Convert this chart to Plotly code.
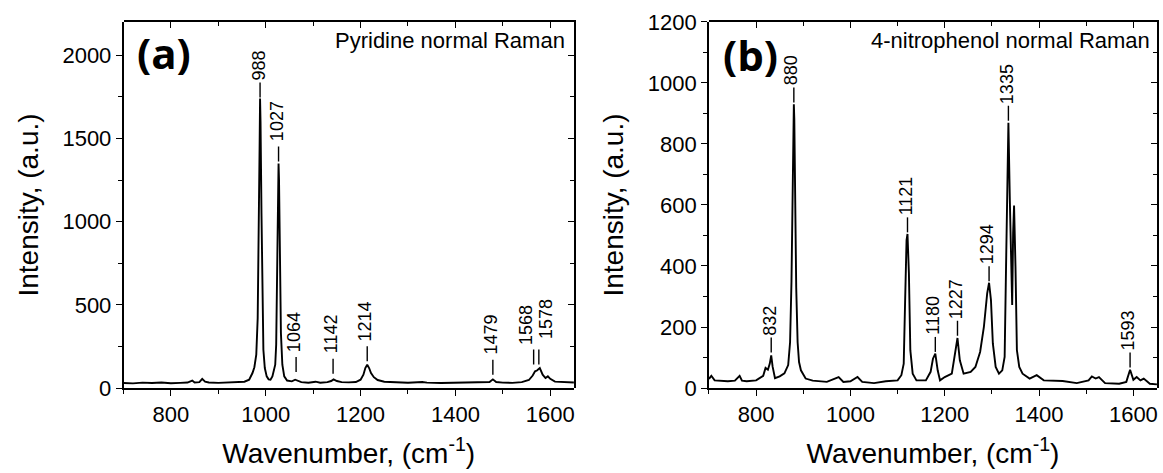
import plotly.graph_objects as go

# ---------------- data: panel (a) pyridine ----------------
pyr_x = [700, 720, 740, 760, 780, 800, 820, 835, 845, 850, 860, 866, 872, 880, 900, 920, 940, 955,
         965, 972, 976, 980, 983, 985, 987, 988, 989, 991, 993, 995, 998, 1002, 1006, 1010, 1014,
         1018, 1020, 1022, 1024, 1026, 1027, 1028, 1030, 1032, 1035, 1039, 1045, 1055, 1062, 1066,
         1075, 1090, 1105, 1115, 1130, 1138, 1143, 1150, 1160, 1175, 1190, 1200, 1206, 1210, 1214,
         1218, 1222, 1228, 1236, 1250, 1270, 1300, 1330, 1340, 1370, 1400, 1430, 1460, 1472, 1479,
         1486, 1500, 1520, 1540, 1555, 1563, 1568, 1572, 1578, 1584, 1590, 1595, 1600, 1610, 1625, 1650]
pyr_y = [30, 28, 32, 30, 33, 29, 31, 33, 45, 33, 35, 55, 38, 33, 31, 32, 34, 38,
         50, 90, 125, 200, 420, 800, 1450, 1740, 1600, 1050, 500, 230, 120, 70, 52, 50, 70,
         110, 140, 260, 600, 1150, 1350, 1250, 750, 330, 140, 70, 45, 40, 50, 45,
         35, 32, 38, 32, 35, 42, 52, 42, 35, 34, 36, 50, 80, 120, 140,
         120, 90, 65, 48, 38, 34, 32, 36, 32, 30, 32, 30, 32, 36, 52,
         36, 32, 31, 35, 48, 75, 100, 105, 120, 80, 60, 70, 55, 38, 35, 33]

pyr_lbl = ["988", "1027", "1064", "1142", "1214", "1479"]
pyr_lbl_x = [988, 1027, 1064, 1142, 1214, 1479]
pyr_lbl_y = [1740, 1355, 90, 80, 155, 74]
pyr_pair_lbl = ["1568", "1578"]
pyr_pair_dash_x = [1565, 1576]
pyr_pair_text_x = [1552, 1594]
pyr_pair_y = 135

# ---------------- data: panel (b) 4-nitrophenol ----------------
np_x = [700, 705, 712, 725, 740, 755, 765, 770, 780, 800, 815, 820, 825, 829, 832, 835, 840, 850,
        860, 868, 872, 875, 877, 879, 880, 881, 883, 885, 888, 891, 895, 905, 920, 950, 975, 985,
        1000, 1015, 1025, 1050, 1075, 1100, 1108, 1113, 1116, 1119, 1121, 1124, 1127, 1132, 1140,
        1160, 1170, 1175, 1180, 1185, 1190, 1200, 1215, 1222, 1227, 1232, 1240, 1255, 1265, 1275,
        1283, 1290, 1294, 1298, 1302, 1308, 1315, 1322, 1327, 1330, 1333, 1335, 1338, 1341, 1343,
        1345, 1347, 1350, 1353, 1358, 1365, 1380, 1395, 1410, 1450, 1480, 1505, 1512, 1520, 1527,
        1540, 1570, 1585, 1593, 1600, 1607, 1615, 1622, 1635, 1650]
np_y = [30, 40, 25, 24, 22, 24, 40, 24, 22, 25, 40, 66, 60, 80, 107, 70, 32, 38,
        48, 75, 150, 350, 650, 880, 930, 880, 620, 330, 150, 85, 58, 31, 24, 20, 36, 20,
        22, 36, 20, 16, 22, 25, 42, 80, 288, 485, 505, 376, 124, 47, 25,
        25, 53, 96, 113, 58, 25, 36, 47, 113, 164, 91, 47, 53, 69, 118,
        200, 310, 345, 288, 146, 69, 47, 58, 102, 398, 781, 870, 617, 343, 272,
        507, 598, 398, 124, 69, 47, 31, 42, 25, 23, 16, 25, 38, 31, 36,
        16, 14, 20, 60, 27, 36, 25, 31, 14, 12]

np_lbl = ["832", "880", "1121", "1180", "1227", "1294", "1335", "1593"]
np_lbl_x = [832, 880, 1121, 1180, 1227, 1294, 1335, 1593]
np_lbl_y = [113, 933, 507, 115, 168, 347, 873, 64]

FONT = "Liberation Sans, Arial, sans-serif"
BOLD = "Open Sans, sans-serif"

fig = go.Figure()
fig.add_trace(go.Scatter(x=pyr_x, y=pyr_y, mode="lines", line=dict(color="black", width=1.9),
                         xaxis="x", yaxis="y", showlegend=False, hoverinfo="skip"))
fig.add_trace(go.Scatter(x=np_x, y=np_y, mode="lines", line=dict(color="black", width=1.9),
                         xaxis="x2", yaxis="y2", showlegend=False, hoverinfo="skip"))
for xa, ya in [("x3", "y3"), ("x4", "y4")]:
    fig.add_trace(go.Scatter(x=[None], y=[None], xaxis=xa, yaxis=ya, showlegend=False, hoverinfo="skip"))

xrange = [700, 1650]
dom_a = [0.1062, 0.4935]
dom_b = [0.6096, 0.9948]
ydom = [0.1797, 0.9535]

tickf = dict(family=FONT, size=22, color="black")
titf = dict(family=FONT, size=28, color="black")

def common(**kw):
    d = dict(showline=True, linecolor="black", linewidth=1.5, showgrid=False, zeroline=False,
             automargin=False, tick0=0, tickcolor="black", tickwidth=1.2)
    d.update(kw)
    return d

def xax(domain, anchor, **kw):
    return common(domain=domain, anchor=anchor, range=xrange, dtick=200,
                  ticks="outside", ticklen=6,
                  minor=dict(dtick=100, ticks="outside", ticklen=4, tickcolor="black", tickwidth=1.2),
                  tickfont=tickf, **kw)

def yax(domain, anchor, rng, dt, mdt, **kw):
    return common(domain=domain, anchor=anchor, range=rng, dtick=dt,
                  ticks="outside", ticklen=6,
                  minor=dict(dtick=mdt, ticks="outside", ticklen=4, tickcolor="black", tickwidth=1.2),
                  tickfont=tickf, **kw)

def mirror_x(domain, anchor):
    return common(domain=domain, anchor=anchor, range=xrange, dtick=200, side="top",
                  ticks="inside", ticklen=6,
                  minor=dict(dtick=100, ticks="inside", ticklen=4, tickcolor="black", tickwidth=1.2),
                  showticklabels=False)

def mirror_y(domain, anchor, rng, dt, mdt):
    return common(domain=domain, anchor=anchor, range=rng, dtick=dt, side="right",
                  ticks="inside", ticklen=6,
                  minor=dict(dtick=mdt, ticks="inside", ticklen=4, tickcolor="black", tickwidth=1.2),
                  showticklabels=False)

xtitle = dict(text="Wavenumber, (cm<sup>-1</sup>)", font=titf, standoff=17)
ytitle = dict(text="Intensity, (a.u.)", font=titf, standoff=16)

fig.update_layout(
    template="none",
    width=1163, height=473,
    margin=dict(l=0, r=0, t=0, b=0, autoexpand=False),
    paper_bgcolor="white", plot_bgcolor="rgba(0,0,0,0)",
    showlegend=False,
    xaxis=xax(dom_a, "y", title=xtitle),
    yaxis=yax(ydom, "x", [0, 2200], 500, 250, title=ytitle),
    xaxis2=xax(dom_b, "y2", title=xtitle),
    yaxis2=yax(ydom, "x2", [0, 1200], 200, 100, title=ytitle),
    xaxis3=mirror_x(dom_a, "y3"),
    yaxis3=mirror_y(ydom, "x3", [0, 2200], 500, 250),
    xaxis4=mirror_x(dom_b, "y4"),
    yaxis4=mirror_y(ydom, "x4", [0, 1200], 200, 100),
)

DASH = 15  # px length of the marker dash under each label
ann, shp = [], []
lblf = dict(family=FONT, size=18, color="black")

def dash(x, y, xr, yr):
    shp.append(dict(type="line", xref=xr, yref=yr, x0=x, x1=x, ysizemode="pixel", yanchor=y,
                    y0=1, y1=1 + DASH, line=dict(color="black", width=1.4)))

def label(t, x, y, xr, yr, shift):
    ann.append(dict(x=x, y=y, xref=xr, yref=yr, text=t, textangle=-90, showarrow=False,
                    xanchor="center", yanchor="bottom", yshift=shift, xshift=-2, font=lblf))

for t, x, y in zip(pyr_lbl, pyr_lbl_x, pyr_lbl_y):
    dash(x, y, "x", "y")
    label(t, x, y, "x", "y", DASH + (1 if t == "988" else 4))
for i, (t, dx, tx) in enumerate(zip(pyr_pair_lbl, pyr_pair_dash_x, pyr_pair_text_x)):
    dash(dx, pyr_pair_y, "x", "y")
    label(t, tx, pyr_pair_y, "x", "y", DASH + 4 + 6 * i)
for t, x, y in zip(np_lbl, np_lbl_x, np_lbl_y):
    dash(x, y, "x2", "y2")
    label(t, x, y, "x2", "y2", DASH + 1)

ann.append(dict(x=0.025, y=1.0, xref="x domain", yref="y domain", text="<b>(a)</b>",
                showarrow=False, xanchor="left", yanchor="top",
                font=dict(family=BOLD, size=42, color="black")))
ann.append(dict(x=0.026, y=0.995, xref="x2 domain", yref="y2 domain", text="<b>(b)</b>",
                showarrow=False, xanchor="left", yanchor="top",
                font=dict(family=BOLD, size=42, color="black")))
ann.append(dict(x=0.985, y=0.99, xref="x domain", yref="y domain", text="Pyridine normal Raman",
                showarrow=False, xanchor="right", yanchor="top",
                font=dict(family=FONT, size=22, color="black")))
ann.append(dict(x=0.988, y=0.99, xref="x2 domain", yref="y2 domain", text="4-nitrophenol normal Raman",
                showarrow=False, xanchor="right", yanchor="top",
                font=dict(family=FONT, size=22, color="black")))
fig.update_layout(annotations=ann, shapes=shp)

fig.write_html("out.html", config={"displayModeBar": False},
               post_script="document.body.style.margin='0';document.body.style.overflow='hidden';")
